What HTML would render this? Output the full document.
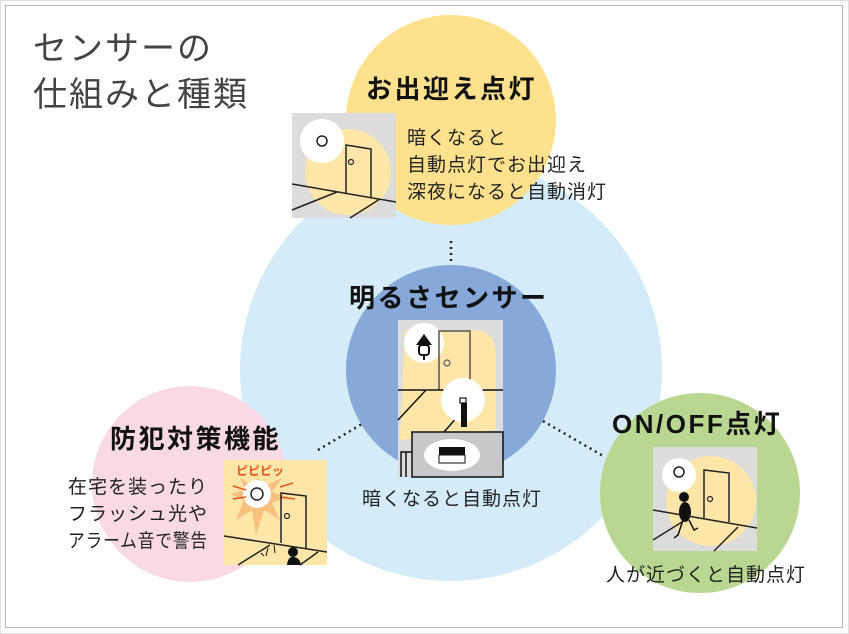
<!DOCTYPE html>
<html><head><meta charset="utf-8"><style>
html,body{margin:0;padding:0;background:#fff;}
svg{display:block;}
text{font-family:"Liberation Sans","Noto Sans CJK JP",sans-serif;}
.b{font-size:19px;letter-spacing:1px;fill:#222;}
.h{font-size:26px;font-weight:bold;letter-spacing:2.5px;fill:#111;}
</style></head><body>
<svg width="849" height="634" viewBox="0 0 849 634" xmlns="http://www.w3.org/2000/svg">
<rect x="0.5" y="0.5" width="848" height="633" fill="#fff" stroke="#ddd"/>
<rect x="5.5" y="5.5" width="837" height="622" fill="#fff" stroke="#b5b5b5"/>
<text x="33" y="60" font-size="34" letter-spacing="2" fill="#444">センサーの</text>
<text x="33" y="106" font-size="34" letter-spacing="2" fill="#444">仕組みと種類</text>

<circle cx="451" cy="370" r="211" fill="#d4ecf9"/>
<circle cx="451" cy="120" r="105" fill="#fde18d"/>
<circle cx="190" cy="484" r="98" fill="#f9d9e3"/>
<circle cx="700" cy="493" r="100" fill="#b9d791"/>
<circle cx="451" cy="370" r="105" fill="#86a9d9"/>

<g stroke="#222" stroke-width="2.5" stroke-dasharray="2 4" fill="none">
<line x1="451" y1="241" x2="451" y2="265"/>
<line x1="318" y1="450" x2="362" y2="424"/>
<line x1="543" y1="421" x2="605" y2="457"/>
</g>

<text x="366" y="98" class="h">お出迎え点灯</text>
<text x="407" y="144" class="b">暗くなると</text>
<text x="407" y="171" class="b">自動点灯でお出迎え</text>
<text x="407" y="198" class="b">深夜になると自動消灯</text>

<text x="349" y="307" class="h">明るさセンサー</text>
<text x="362" y="505" class="b">暗くなると自動点灯</text>

<text x="110" y="448" class="h">防犯対策機能</text>
<text x="68" y="493" class="b">在宅を装ったり</text>
<text x="68" y="520" class="b">フラッシュ光や</text>
<text x="68" y="547" class="b" letter-spacing="0" textLength="140" lengthAdjust="spacingAndGlyphs">アラーム音で警告</text>

<text x="612" y="433" class="h" letter-spacing="3">ON/OFF点灯</text>
<text x="606" y="581" class="b">人が近づくと自動点灯</text>

<!-- top image -->
<g>
<rect x="292" y="113" width="104" height="105" fill="#dcdcdc"/>
<circle cx="348" cy="172" r="43" fill="#fde6a8"/>
<circle cx="322" cy="141" r="22" fill="#fff"/>
<circle cx="322" cy="141" r="5" fill="none" stroke="#222" stroke-width="1.5"/>
<path d="M346 194 V145 L371 149 V197" fill="none" stroke="#222" stroke-width="1.5"/>
<circle cx="351" cy="162" r="2.5" fill="none" stroke="#222" stroke-width="1.2"/>
<path d="M292 184 L396 202 M337 192 L292 210 M380 199 L350 218" fill="none" stroke="#222" stroke-width="1.5"/>
</g>

<!-- center image -->
<g>
<rect x="398" y="320" width="105" height="157" fill="#dcdcdc"/>
<path d="M405 330 H480 Q497 335 496 360 V430 L400 440 Z" fill="#fde6a8"/>
<circle cx="424" cy="343" r="20" fill="#fff"/>
<path d="M416 345 L424 334 L432 345 Z" fill="#111"/>
<rect x="419" y="345" width="10" height="10" rx="3" fill="none" stroke="#111" stroke-width="2"/>
<line x1="424" y1="355" x2="424" y2="360" stroke="#111" stroke-width="2"/>
<path d="M439 390 V331 H470 V390" fill="none" stroke="#555" stroke-width="1.5"/>
<circle cx="447" cy="363" r="3" fill="none" stroke="#555" stroke-width="1.2"/>
<line x1="398" y1="390" x2="503" y2="390" stroke="#111" stroke-width="1.5"/>
<path d="M426 390 L398 420 M481 390 L444 432" stroke="#111" stroke-width="1.5"/>
<circle cx="463" cy="400" r="22" fill="#fff"/>
<rect x="460" y="398" width="6" height="5" fill="#fff" stroke="#111" stroke-width="1.2"/>
<rect x="461" y="403" width="6" height="24" fill="#111"/>
<rect x="412" y="432" width="91" height="45" fill="#c8c8c8" stroke="#111" stroke-width="1.5"/>
<path d="M401 477 V452 H412 M406 452 V477" fill="none" stroke="#111" stroke-width="1.5"/>
<ellipse cx="452" cy="455" rx="28" ry="16" fill="#fff"/>
<rect x="439" y="447" width="26" height="8" fill="#111"/>
<rect x="439" y="455" width="26" height="8" fill="#fff" stroke="#111" stroke-width="1"/>
</g>

<!-- pink image -->
<g>
<rect x="224" y="460" width="103" height="105" fill="#fde6a8"/>
<polygon points="258,478 266,485 282,478 272,492 288,497 272,503 280,520 264,510 256,535 252,510 236,520 244,500 230,494 246,490 240,478 252,485" fill="#f8c07e"/>
<circle cx="257" cy="494" r="14" fill="#fff"/>
<circle cx="257" cy="494" r="6" fill="#fff" stroke="#222" stroke-width="1.5"/>
<path d="M233 486 L246 490 M233 499 L246 497 M280 487 L293 483 M280 497 L295 499" stroke="#e9541c" stroke-width="1.5"/>
<text x="236" y="475" font-size="12" font-weight="bold" fill="#e9541c">ピピピッ</text>
<path d="M281 543 V493 L306 496 V548" fill="none" stroke="#222" stroke-width="1.5"/>
<circle cx="287" cy="516" r="2.5" fill="none" stroke="#222" stroke-width="1.2"/>
<path d="M224 536 L327 552 M270 545 L238 565 M318 552 L300 565" stroke="#222" stroke-width="1.5"/>
<circle cx="293" cy="552" r="5" fill="#111"/>
<path d="M287 565 Q288 556 294 557 Q300 558 301 565 Z" fill="#111"/>
<path d="M268 548 L266 556 M261 553 L264 556 M274 545 L275 553" stroke="#111" stroke-width="1"/>
</g>

<!-- green image -->
<g>
<rect x="653" y="447" width="104" height="104" fill="#dcdcdc"/>
<circle cx="711" cy="501" r="45" fill="#fde6a8"/>
<circle cx="679" cy="475" r="17" fill="#fff"/>
<circle cx="679" cy="472" r="5" fill="none" stroke="#222" stroke-width="1.5"/>
<path d="M704 518 V470 L729 473 V522" fill="none" stroke="#222" stroke-width="1.5"/>
<circle cx="710" cy="499" r="2.5" fill="none" stroke="#222" stroke-width="1.2"/>
<path d="M653 510 L757 528 M682 522 L653 540 M738 527 L714 551" stroke="#222" stroke-width="1.5"/>
<circle cx="684" cy="497" r="5" fill="#111"/>
<ellipse cx="685" cy="512" rx="6" ry="10" fill="#111"/>
<path d="M683 520 L678 535 L674 538 M689 520 L694 530 L698 528" fill="none" stroke="#111" stroke-width="1.5"/>
</g>
</svg>
</body></html>
